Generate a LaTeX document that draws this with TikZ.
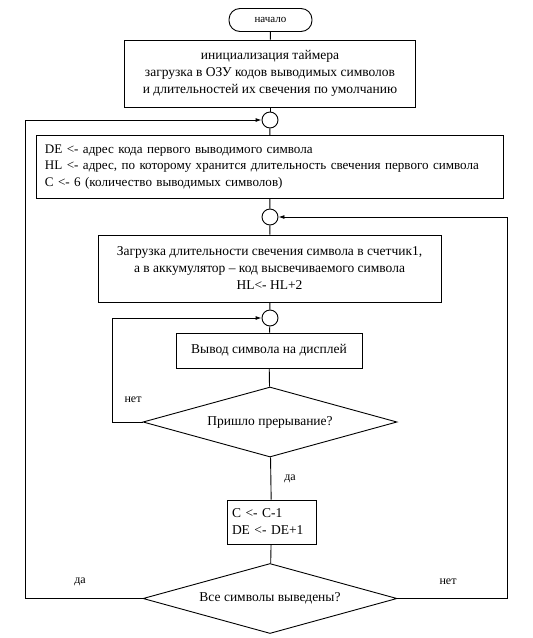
\documentclass[tikz,border=0pt]{standalone}
\usepackage{fontspec}
\setmainfont{Liberation Serif}
\usetikzlibrary{shapes.geometric,arrows.meta}
\tikzset{
  base/.style={draw, line width=0.9pt, inner sep=0pt, font=\fontsize{13.5}{17}\selectfont},
  procbox/.style={base, rectangle, align=center},
  termbox/.style={base, rectangle, rounded corners=11pt, minimum width=83pt, minimum height=23pt, font=\fontsize{11}{13}\selectfont},
  joint/.style={draw, line width=0.9pt, circle, minimum size=16pt, inner sep=0pt},
  decision/.style={base, diamond, aspect=3.6, minimum width=254pt, minimum height=70pt},
  flow/.style={line width=0.9pt},
  arr/.style={line width=0.9pt, -{Latex[length=6pt,width=4pt]}},
  lbl/.style={font=\fontsize{12}{14}\selectfont, inner sep=0pt}
}
\begin{document}
\begin{tikzpicture}[x=1pt,y=-1pt]
\useasboundingbox (0,0) rectangle (533,638);
\node[termbox] (start) at (270.5,20) {начало};
\node[procbox, minimum width=291pt, minimum height=67pt] (b1) at (270,73.5)
  {инициализация таймера\\загрузка в ОЗУ кодов выводимых символов\\и длительностей их свечения по умолчанию};
\node[joint] (c1) at (270,120) {};
\node[procbox, align=left, text width=449pt, inner xsep=9pt, minimum height=63pt, font=\fontsize{13.1}{16.5}\selectfont] (b2) at (269.5,167)
  {DE <- адрес кода первого выводимого символа\\HL <- адрес, по которому хранится длительность свечения первого символа\\C <- 6 (количество выводимых символов)};
\node[joint] (c2) at (270,217) {};
\node[procbox, minimum width=343pt, minimum height=67pt] (b3) at (269.5,268.5)
  {Загрузка длительности свечения символа в счетчик1,\\а в аккумулятор – код высвечиваемого символа\\HL<- HL+2};
\node[joint] (c3) at (270,318) {};
\node[procbox, minimum width=186pt, minimum height=35pt] (b4) at (269,350.5) {Вывод символа на дисплей};
\node[decision] (d1) at (270,422) {Пришло прерывание?};
\node[procbox, align=left, text width=79pt, inner xsep=5pt, minimum height=44pt] (b5) at (271.5,522)
  {C <- C-1\\DE <- DE+1};
\node[decision] (d2) at (270,598.5) {Все символы выведены?};
\coordinate (lx) at (25,0);
\coordinate (rx) at (507,0);
\coordinate (ix) at (112,0);
\node[lbl] (n1) at (133,400) {нет};
\node[lbl] (y1) at (290,479) {да};
\node[lbl] (y2) at (80,582) {да};
\node[lbl] (n2) at (448,582) {нет};
\draw[flow] (start) -- (b1);
\draw[flow] (b1) -- (c1);
\draw[flow] (c1) -- (b2);
\draw[flow] (b2) -- (c2);
\draw[flow] (c2) -- (b3);
\draw[flow] (b3) -- (c3);
\draw[flow] (c3) -- (b4);
\draw[flow] (b4) -- (d1);
\draw[flow] (d1) -- (b5);
\draw[flow] (b5) -- (d2);
\draw[arr] (d1.west) -- (d1.west -| ix) |- (c3.west);
\draw[arr] (d2.west) -- (d2.west -| lx) |- (c1.west);
\draw[arr] (d2.east) -- (d2.east -| rx) |- (c2.east);
\end{tikzpicture}
\end{document}
